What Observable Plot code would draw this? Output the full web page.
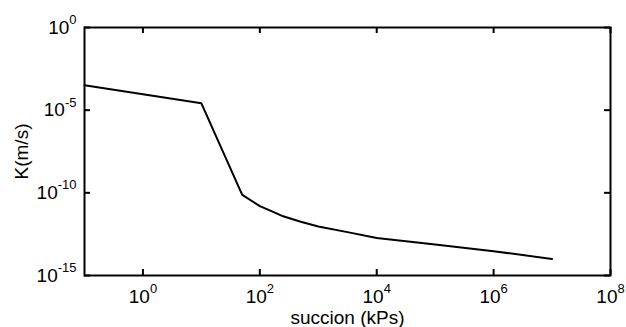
<!DOCTYPE html>
<html><head><meta charset="utf-8">
<script src="https://cdn.jsdelivr.net/npm/d3@7"></script>
<script src="https://cdn.jsdelivr.net/npm/@observablehq/plot@0.6"></script>
<style>body{margin:0;background:#fff;} svg{display:block}</style>
</head><body><div id="chart"></div>
<script>
const suction = [0.1, 10, 50, 100, 158, 251, 501, 1000, 3160, 10000, 31600, 1e5, 1e6, 1e7];
const K = [3.2e-4, 2.6e-5, 7.6e-11, 1.58e-11, 7.9e-12, 3.8e-12, 1.78e-12, 9.3e-13, 4.2e-13, 1.86e-13, 1.17e-13, 7.6e-14, 2.95e-14, 1.0e-14];
const xTicks = [1, 1e2, 1e4, 1e6, 1e8];
const yTicks = [1e-15, 1e-10, 1e-5, 1];
const xLabel = "succion (kPs)";
const yLabel = "K(m/s)";

const data = suction.map((s, i) => ({s, k: K[i]}));
const fmt = d => "10^" + Math.round(Math.log10(d));
const font = "'Liberation Sans', Arial, sans-serif";
const W = 626, H = 327, mL = 84, mR = 16, mT = 27, mB = 52, tick = 6;
const frameW = W - mL - mR, frameH = H - mT - mB;

const plot = Plot.plot({
  width: W, height: H,
  marginLeft: mL, marginRight: mR, marginTop: mT, marginBottom: mB,
  style: {fontFamily: font, fontSize: "19px", background: "#fff", color: "#000"},
  x: {type: "log", domain: [0.1, 1e8]},
  y: {type: "log", domain: [1e-15, 1]},
  marks: [
    Plot.axisX({ticks: xTicks, tickSize: 0, tickPadding: 14, tickFormat: fmt, label: xLabel, labelAnchor: "center", labelOffset: 48, labelArrow: "none"}),
    Plot.axisY({ticks: yTicks, tickSize: 0, tickPadding: 8, tickFormat: fmt, label: yLabel, labelAnchor: "center", labelOffset: 70, labelArrow: "none"}),
    Plot.ruleX(xTicks, {x: d => d, insetTop: frameH - tick, stroke: "#000", strokeWidth: 2}),
    Plot.ruleX(xTicks, {x: d => d, insetBottom: frameH - tick, stroke: "#000", strokeWidth: 2}),
    Plot.ruleY(yTicks, {y: d => d, insetRight: frameW - tick, stroke: "#000", strokeWidth: 2}),
    Plot.ruleY(yTicks, {y: d => d, insetLeft: frameW - tick, stroke: "#000", strokeWidth: 2}),
    Plot.line(data, {x: "s", y: "k", stroke: "#000", strokeWidth: 2}),
    Plot.frame({stroke: "#000", strokeWidth: 2})
  ]
});

const ns = "http://www.w3.org/2000/svg";
plot.querySelectorAll('g[aria-label$="tick label"] text').forEach(t => {
  const m = /^10\^(-?\d+)$/.exec(t.textContent);
  if (!m) return;
  t.textContent = "";
  const a = document.createElementNS(ns, "tspan");
  a.textContent = "10";
  const b = document.createElementNS(ns, "tspan");
  b.textContent = m[1];
  b.setAttribute("dy", "-0.75em");
  b.setAttribute("font-size", "13px");
  t.append(a, b);
});
document.getElementById("chart").append(plot);
</script>
</body></html>
